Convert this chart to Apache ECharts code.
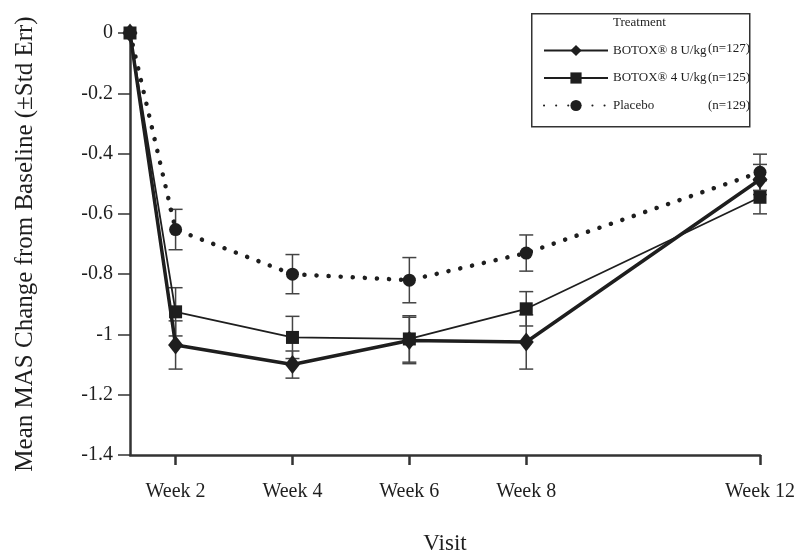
<!DOCTYPE html>
<html>
<head>
<meta charset="utf-8">
<script src="https://cdn.jsdelivr.net/npm/echarts@6/dist/echarts.min.js"></script>
<style>html,body{margin:0;padding:0;background:#fff;}#c{width:798px;height:550px;}</style>
</head>
<body>
<div id="c"></div>
<script>
// x positions (weeks); baseline plotted at the start of the axis
const weeks = [1.22, 2, 4, 6, 8, 12];
const tickWeeks = [2, 4, 6, 8, 12];
const tickLabels = ['Week 2', 'Week 4', 'Week 6', 'Week 8', 'Week 12'];
const seriesNames = ['BOTOX\u00AE 8 U/kg', 'BOTOX\u00AE 4 U/kg', 'Placebo'];
const seriesN = ['(n=127)', '(n=125)', '(n=129)'];
const botox8 = [0, -1.035, -1.10, -1.02, -1.025, -0.486];
const botox8Err = [0, 0.08, 0.045, 0.077, 0.09, 0.05];
const botox4 = [0, -0.925, -1.01, -1.015, -0.915, -0.545];
const botox4Err = [0, 0.08, 0.07, 0.077, 0.057, 0.055];
const placebo = [0, -0.652, -0.80, -0.82, -0.73, -0.462];
const placeboErr = [0, 0.067, 0.065, 0.075, 0.06, 0.06];

const FONT = '"Liberation Serif", "DejaVu Serif", serif';
const INK = '#1e1e1e';

function pts(vals) { return vals.map((v, i) => [weeks[i], v]); }
function errData(vals, errs) {
  const out = [];
  vals.forEach((v, i) => { if (errs[i] > 0) out.push([weeks[i], v - errs[i], v + errs[i]]); });
  return out;
}
function errSeries(vals, errs) {
  return {
    type: 'custom', silent: true, z: 1,
    data: errData(vals, errs),
    renderItem: function (params, api) {
      const lo = api.coord([api.value(0), api.value(1)]);
      const hi = api.coord([api.value(0), api.value(2)]);
      const w = 7;
      const st = { stroke: '#444', lineWidth: 1.5, fill: null };
      return {
        type: 'group',
        children: [
          { type: 'line', shape: { x1: lo[0], y1: lo[1], x2: hi[0], y2: hi[1] }, style: st },
          { type: 'line', shape: { x1: lo[0] - w, y1: lo[1], x2: lo[0] + w, y2: lo[1] }, style: st },
          { type: 'line', shape: { x1: hi[0] - w, y1: hi[1], x2: hi[0] + w, y2: hi[1] }, style: st }
        ]
      };
    }
  };
}

const legendTop = 39, legendRow = 28.5;
const nTexts = seriesN.map((t, i) => ({
  type: 'text', x: 708, y: legendTop + 10 + i * legendRow,
  style: { text: t, font: '13px ' + FONT, fill: INK, verticalAlign: 'middle' }, z: 10
}));

const chart = echarts.init(document.getElementById('c'));
chart.setOption({
  animation: false,
  backgroundColor: '#fff',
  grid: { left: 130, right: 38, top: 33, bottom: 95, outerBoundsMode: 'none', containLabel: false },
  graphic: [
    { type: 'rect', left: 531, top: 13, shape: { width: 218, height: 113 },
      style: { fill: '#fff', stroke: '#333', lineWidth: 1.5 }, z: 0 },
    { type: 'text', left: 613, top: 16,
      style: { text: 'Treatment', font: '13px ' + FONT, fill: INK }, z: 10 }
  ].concat(nTexts),
  legend: {
    orient: 'vertical', left: 538, top: legendTop, itemGap: 14.5, itemWidth: 64, itemHeight: 14,
    data: seriesNames,
    z: 10,
    textStyle: { fontFamily: FONT, fontSize: 13, color: INK }
  },
  xAxis: {
    type: 'value', min: 1.22, max: 12,
    name: 'Visit', nameLocation: 'middle', nameGap: 77,
    nameTextStyle: { fontFamily: FONT, fontSize: 23, color: INK },
    axisLine: { onZero: false, lineStyle: { color: '#333', width: 2.5 } },
    axisTick: { show: true, length: 10, lineStyle: { color: '#333', width: 2.5 }, customValues: tickWeeks },
    axisLabel: {
      customValues: tickWeeks, margin: 27, fontFamily: FONT, fontSize: 20, color: INK,
      formatter: function (v) { const i = tickWeeks.indexOf(v); return i >= 0 ? tickLabels[i] : ''; }
    },
    splitLine: { show: false }
  },
  yAxis: {
    type: 'value', min: -1.4, max: 0, interval: 0.2,
    name: 'Mean MAS Change from Baseline (\u00B1Std Err)', nameLocation: 'middle', nameGap: 92,
    nameTextStyle: { fontFamily: FONT, fontSize: 25, color: INK },
    axisLine: { show: true, onZero: false, lineStyle: { color: '#333', width: 2.5 } },
    axisTick: { show: true, length: 12, lineStyle: { color: '#333', width: 1.5 } },
    axisLabel: { fontFamily: FONT, fontSize: 20, color: INK, margin: 17,
      formatter: function (v) { return String(Math.round(v * 10) / 10); } },
    splitLine: { show: false }
  },
  series: [
    errSeries(botox8, botox8Err),
    errSeries(botox4, botox4Err),
    errSeries(placebo, placeboErr),
    {
      name: seriesNames[2], type: 'line', data: pts(placebo), z: 3,
      symbol: 'circle', symbolSize: 13,
      itemStyle: { color: INK },
      lineStyle: { color: INK, width: 4.5, type: [0.1, 12], cap: 'round' }
    },
    {
      name: seriesNames[1], type: 'line', data: pts(botox4), z: 4,
      symbol: 'rect', symbolSize: 13,
      itemStyle: { color: INK },
      lineStyle: { color: INK, width: 1.8 }
    },
    {
      name: seriesNames[0], type: 'line', data: pts(botox8), z: 5,
      symbol: 'diamond', symbolSize: [15, 19],
      itemStyle: { color: INK },
      lineStyle: { color: INK, width: 3.5 }
    }
  ]
});
</script>
</body>
</html>
